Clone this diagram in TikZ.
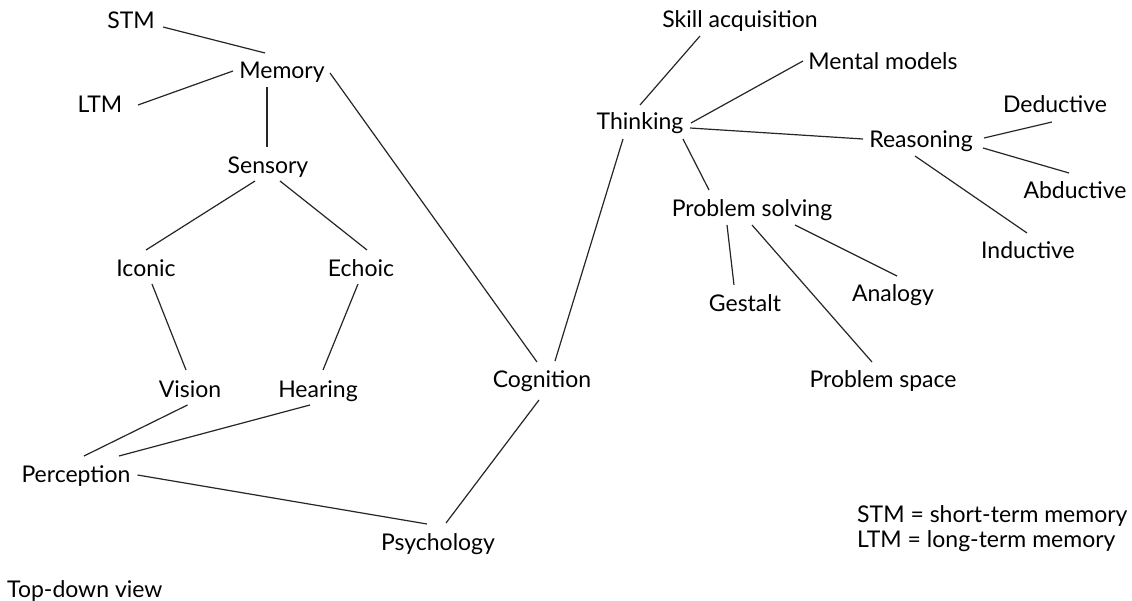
\documentclass[tikz,border=0pt]{standalone}
\usepackage{fontspec}
\setmainfont{Lato}
\usetikzlibrary{calc}
\tikzset{
  lbl/.style={anchor=base, inner sep=0pt, font=\fontsize{23}{27}\selectfont},
  lbll/.style={anchor=base west, inner sep=0pt, font=\fontsize{23}{27}\selectfont},
  conn/.style={draw=black!85, line width=1.2pt}
}
\begin{document}
\begin{tikzpicture}[x=1pt,y=-1pt]
\useasboundingbox[fill=white] (0,0) rectangle (1132,601);
% nodes (x = centre, y = baseline, in pixels)
\node[lbl] (stm) at (131,29) {STM};
\node[lbl] (memory) at (282,79) {Memory};
\node[lbl] (ltm) at (100,113) {LTM};
\node[lbl] (sensory) at (268,174) {Sensory};
\node[lbl] (iconic) at (146,277) {Iconic};
\node[lbl] (echoic) at (361,277) {Echoic};
\node[lbl] (vision) at (190,397) {Vision};
\node[lbl] (hearing) at (318,397) {Hearing};
\node[lbl] (perception) at (76,482) {Perception};
\node[lbl] (psychology) at (438,550) {Psychology};
\node[lbl] (cognition) at (542,388) {Cognition};
\node[lbll] (topdown) at (7,597) {Top-down view};
\node[lbl] (skill) at (740,28) {Skill acquisition};
\node[lbl] (mental) at (883,70) {Mental models};
\node[lbl] (thinking) at (640,130) {Thinking};
\node[lbl] (reasoning) at (921,148) {Reasoning};
\node[lbl] (deductive) at (1055,113) {Deductive};
\node[lbl] (abductive) at (1075,199) {Abductive};
\node[lbl] (inductive) at (1028,259) {Inductive};
\node[lbl] (problem) at (752,217) {Problem solving};
\node[lbl] (gestalt) at (745,312) {Gestalt};
\node[lbl] (analogy) at (893,302) {Analogy};
\node[lbl] (space) at (883,388) {Problem space};
\node[lbll] (legend1) at (857,522) {STM = short-term memory};
\node[lbll] (legend2) at (857,547) {LTM = long-term memory};
% connectors
\draw[conn] ($(stm.base)+(32,-2)$) -- ($(memory.base)+(-17,-26)$);
\draw[conn] ($(ltm.base)+(38,-8)$) -- ($(memory.base)+(-49,-8)$);
\draw[conn] ($(memory.base)+(-15,8)$) -- ($(sensory.base)+(-1,-27)$);
\draw[conn] ($(memory.base)+(48,-6)$) -- ($(cognition.base)+(-5,-26)$);
\draw[conn] ($(sensory.base)+(-13,7)$) -- ($(iconic.base)+(0,-27)$);
\draw[conn] ($(sensory.base)+(12,7)$) -- ($(echoic.base)+(6,-27)$);
\draw[conn] ($(iconic.base)+(6,7)$) -- ($(vision.base)+(-4,-27)$);
\draw[conn] ($(echoic.base)+(-3,7)$) -- ($(hearing.base)+(5,-27)$);
\draw[conn] ($(vision.base)+(-2.5,8)$) -- ($(perception.base)+(8,-26)$);
\draw[conn] ($(hearing.base)+(-8,8)$) -- ($(perception.base)+(43,-26)$);
\draw[conn] ($(perception.base)+(61.5,-7)$) -- ($(psychology.base)+(-11,-26)$);
\draw[conn] ($(cognition.base)+(-3,12)$) -- ($(psychology.base)+(8,-27)$);
\draw[conn] ($(cognition.base)+(13,-27)$) -- ($(thinking.base)+(-17,9)$);
\draw[conn] ($(skill.base)+(-40,8)$) -- ($(thinking.base)+(0,-25)$);
\draw[conn] ($(mental.base)+(-80,-9)$) -- ($(thinking.base)+(51,-7)$);
\draw[conn] ($(thinking.base)+(50,-2)$) -- ($(reasoning.base)+(-58,-9)$);
\draw[conn] ($(thinking.base)+(43,9)$) -- ($(problem.base)+(-43,-27)$);
\draw[conn] ($(problem.base)+(-25,8)$) -- ($(gestalt.base)+(-11,-27)$);
\draw[conn] ($(problem.base)+(43,8)$) -- ($(analogy.base)+(4,-26)$);
\draw[conn] ($(problem.base)+(0,8)$) -- ($(space.base)+(-11,-26)$);
\draw[conn] ($(reasoning.base)+(63,-10)$) -- ($(deductive.base)+(-3,9)$);
\draw[conn] ($(reasoning.base)+(62,0)$) -- ($(abductive.base)+(-6,-26)$);
\draw[conn] ($(reasoning.base)+(-6,8)$) -- ($(inductive.base)+(-1,-26)$);
\end{tikzpicture}
\end{document}
